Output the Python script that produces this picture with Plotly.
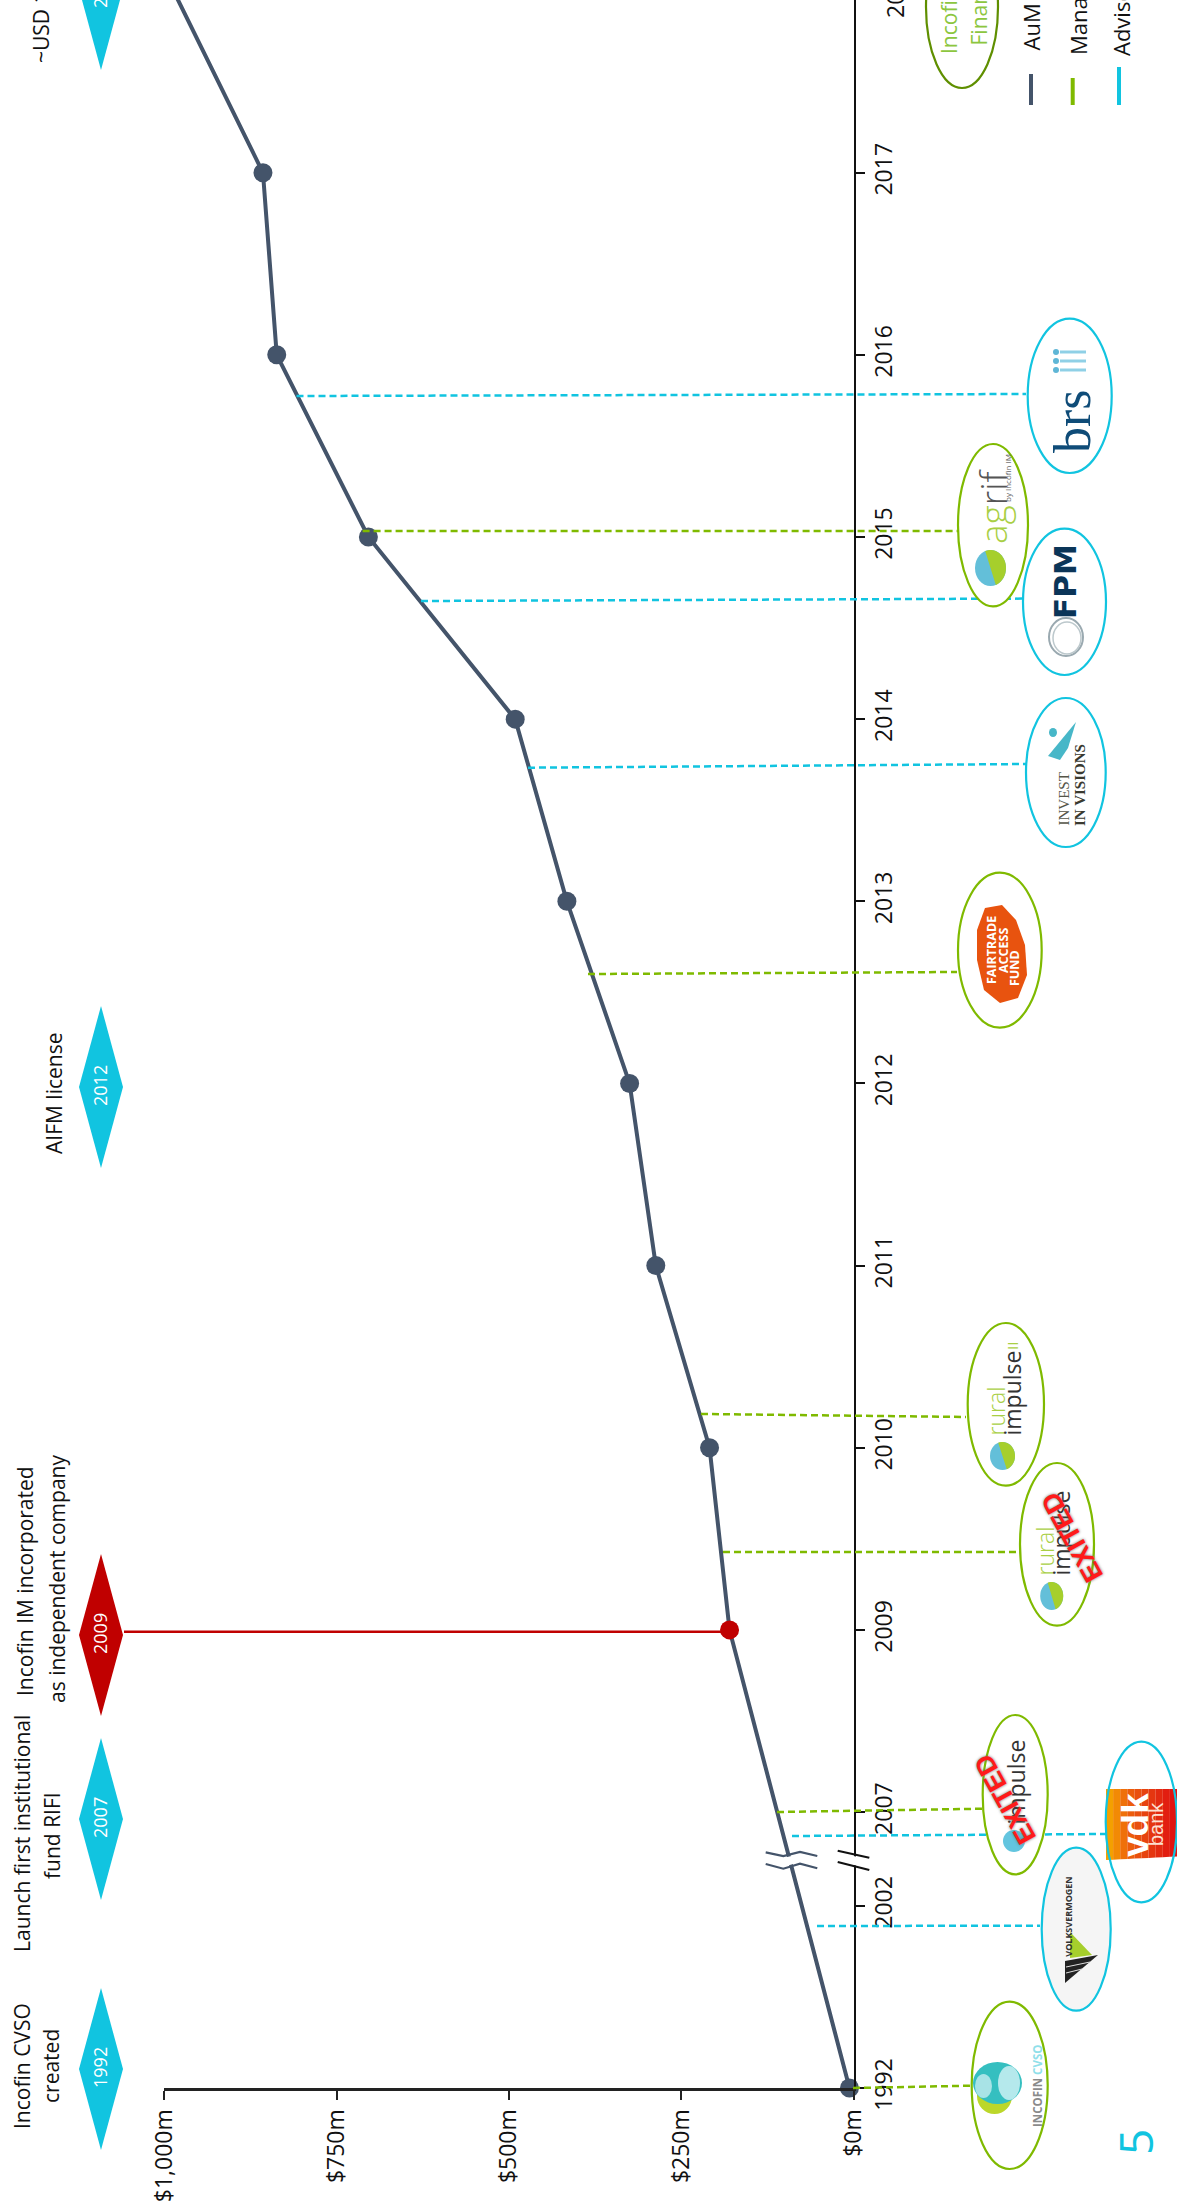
import numpy as np
import plotly.graph_objects as go

W, H = 1177, 2212

# Assets under management (USD m) at each marked year
years = ["1992", "2009", "2010", "2011", "2012", "2013", "2014", "2015", "2016", "2017", "2018"]
aum_usd_m = [6, 180, 209, 287, 325, 416, 491, 704, 837, 857, 987]
year_slots = [0, 2.515, 3.515, 4.515, 5.515, 6.515, 7.515, 8.515, 9.515, 10.515, 11.515]

# Axis ticks; the time axis is broken between 2002 and 2007
tick_years = ["1992", "2002", "2007", "2009", "2010", "2011", "2012", "2013", "2014", "2015", "2016", "2017"]
tick_slots = [0, 1, 1.515, 2.515, 3.515, 4.515, 5.515, 6.515, 7.515, 8.515, 9.515, 10.515]
value_ticks = [0, 250, 500, 750, 1000]
value_labels = ["$0m", "$250m", "$500m", "$750m", "$1,000m"]

NAVY = "#44546a"
CYAN = "#11c4e0"
GREEN = "#7fba00"
RED = "#c00000"
FONT = "Open Sans"

AXIS_X0, AXIS_X1, AXIS_Y = 164.4, 853.6, 2088


def px(x):
    return x / W


def py(y):
    return 1 - y / H


shapes = []
notes = []


def line(x0, y0, x1, y1, color, width=2.5, dash=None):
    shapes.append(dict(type="line", xref="paper", yref="paper", x0=px(x0), y0=py(y0), x1=px(x1), y1=py(y1),
                       line=dict(color=color, width=width, dash=dash)))


def dashed(x0, y0, x1, y1, color):
    line(x0, y0, x1, y1, color, 2.5, "7px,4px")


def oval(x0, y0, x1, y1, fill=None, edge=None, width=2.2):
    shapes.append(dict(type="circle", xref="paper", yref="paper", x0=px(x0), y0=py(y0), x1=px(x1), y1=py(y1),
                       fillcolor=fill if fill else "rgba(0,0,0,0)",
                       line=dict(color=edge if edge else "rgba(0,0,0,0)", width=width if edge else 0)))


def poly(points, fill, edge=None, width=0):
    d = "M " + " L ".join(f"{px(x):.5f},{py(y):.5f}" for x, y in points) + " Z"
    shapes.append(dict(type="path", xref="paper", yref="paper", path=d, fillcolor=fill,
                       line=dict(color=edge if edge else "rgba(0,0,0,0)", width=width)))


def curve(points, color, width):
    d = "M " + " L ".join(f"{px(x):.5f},{py(y):.5f}" for x, y in points)
    shapes.append(dict(type="path", xref="paper", yref="paper", path=d, line=dict(color=color, width=width)))


def text(s, x, y, size, color="#111111", family=FONT, angle=-90, xa="center", ya="middle", **font):
    notes.append(dict(text=s, xref="paper", yref="paper", x=px(x), y=py(y), xanchor=xa, yanchor=ya,
                      textangle=angle, showarrow=False, borderpad=0,
                      font=dict(size=size, color=color, family=family, **font)))


def diamond(cy, label, color):
    cx = 101
    poly([(cx, cy - 81), (cx + 22, cy), (cx, cy + 81), (cx - 22, cy)], color)
    text(label, cx - 1, cy - 1, 18, "#ffffff")


def half_disc(cx, cy, rx, ry, start, color):
    angles = np.radians(np.linspace(start, start + 180, 25))
    poly([(cx + rx * np.cos(a), cy + ry * np.sin(a)) for a in angles], color)


def swirl(cx, cy, rx, ry):
    oval(cx - rx, cy - ry, cx + rx, cy + ry, fill="#63bfd9")
    half_disc(cx, cy, rx, ry, -110, "#a6cf2c")


def exited(cx, cy):
    text("EXITED", cx, cy, 27, "#ff1a1a", "Liberation Sans", angle=-119,
         weight="bold", shadow="0px 0px 3px #666666")


# Timeline diamonds with their captions
diamond(2069, "1992", CYAN)
diamond(1819, "2007", CYAN)
diamond(1635, "2009", RED)
diamond(1087, "2012", CYAN)
diamond(-11, "2018", CYAN)

text("Incofin CVSO", 22, 2066, 21)
text("created", 51, 2066, 21)
text("Launch first institutional", 22, 1834, 21)
text("fund RIFI", 52, 1836, 21)
text("Incofin IM incorporated", 25, 1581, 21)
text("as independent company", 57, 1579, 21)
text("AIFM license", 54, 1094, 21)
text("~USD 1bn AuM", 41, 64, 21, ya="bottom")

# Year labelled beyond the top of the time axis
text("2018", 895, -8, 23)

# Connectors between the AuM line and the fund logos
line(124, 1631.7, 730, 1631.7, RED, 2.5)
dashed(853, 2088, 970, 2085.7, GREEN)
dashed(817, 1926, 1040, 1925.7, CYAN)
dashed(792, 1836, 1107, 1834, CYAN)
dashed(777, 1812, 982, 1808.7, GREEN)
dashed(723, 1552, 1018, 1552, GREEN)
dashed(701, 1414, 966, 1417, GREEN)
dashed(588, 974, 957, 972, GREEN)
dashed(528, 767.7, 1026, 764, CYAN)
dashed(421, 601, 1024, 598.6, CYAN)
dashed(362.6, 531, 958, 531, GREEN)
dashed(296.5, 396, 1026, 394, CYAN)

# Axis break markers
poly([(762, 1854), (783, 1858), (800, 1854), (820, 1858), (820, 1866), (800, 1862), (783, 1867), (762, 1862)], "#ffffff")
curve([(765.7, 1852.3), (783.3, 1856), (800, 1852), (817.3, 1856)], NAVY, 2.2)
curve([(765.7, 1864), (783.3, 1868.7), (800, 1863.7), (817.3, 1868.3)], NAVY, 2.2)
poly([(845, 1854), (862, 1858), (862, 1867), (845, 1863)], "#ffffff")
line(837.7, 1850.7, 869.3, 1857.7, "#111111", 2.2)
line(837.7, 1862, 869.3, 1870, "#111111", 2.2)

# Incofin CVSO
oval(971.7, 2001.7, 1047.7, 2169, fill="#ffffff")
oval(977, 2078, 1012, 2114, fill="#bcd72a")
oval(973, 2062, 1022, 2104, fill="#35bfc0")
oval(998, 2066, 1020, 2100, fill="#b5e9ec")
oval(975, 2074, 992, 2098, fill="#a8e3e6")
text('<span style="color:#8a8a8a">INCOFIN</span> <span style="color:#8fe0ea">CVSO</span>',
     1037, 2086, 11.5, weight="bold")
oval(971.7, 2001.7, 1047.7, 2169, edge=GREEN)

# Volksvermogen
oval(1041.7, 1847.7, 1110.7, 2010.7, fill="#f5f5f5")
poly([(1070, 1932), (1092, 1955), (1070, 1958)], "#a6cf2c")
poly([(1065, 1961), (1098, 1955), (1065, 1983)], "#222222")
line(1066, 1967, 1090, 1962, "#dddddd", 1)
line(1066, 1973, 1082, 1969, "#dddddd", 1)
text("VOLKSVERMOGEN", 1067.7, 1917, 9, "#333333", weight="bold")
oval(1041.7, 1847.7, 1110.7, 2010.7, edge=CYAN)

# vdk bank
oval(1105.7, 1741.7, 1177, 1902.3, fill="#ffffff")
strip_colors = ["#f4a000", "#f28a05", "#ef700a", "#ec5c0c", "#e9500e", "#e7440f", "#e53610", "#e32a10", "#e21e10", "#e01410"]
for i, c in enumerate(strip_colors):
    x0 = 1106 + i * 7.1
    shear = i * 0.35
    poly([(x0, 1789), (x0 + 7.1, 1789), (x0 + 7.1, 1860 - shear - 0.35), (x0, 1860 - shear)], c)
text("vdk", 1135, 1825, 37, "#ffffff", "Liberation Sans", weight="bold")
text("bank", 1156, 1824, 20, "#fde0d0", "Liberation Sans")
oval(1105.7, 1741.7, 1177, 1902.3, edge=CYAN)

# Rural impulse (first fund)
oval(982.7, 1715, 1047.7, 1874.3, fill="#ffffff")
oval(1003, 1830, 1025, 1852, fill="#63c5df")
text("impulse", 1015, 1826, 23, "#333333", ya="bottom")
exited(1005, 1799)
oval(982.7, 1715, 1047.7, 1874.3, edge=GREEN)

# Rural impulse II
oval(967.7, 1323, 1044, 1485.7, fill="#ffffff")
swirl(1002.5, 1456, 12.5, 14)
text("rural", 995, 1437, 23, "#a9cf45", ya="bottom", weight=300)
text("impulse", 1011, 1437, 23, "#333333", ya="bottom")
text("II", 1012, 1351, 15, "#a9cf45", ya="bottom")
oval(967.7, 1323, 1044, 1485.7, edge=GREEN)

# Rural impulse I
oval(1020, 1463, 1094, 1625.7, fill="#ffffff")
swirl(1051.7, 1596, 11.5, 14)
text("rural", 1044, 1577, 23, "#a9cf45", ya="bottom", weight=300)
text("impulse", 1060, 1577, 23, "#333333", ya="bottom")
oval(1020, 1463, 1094, 1625.7, edge=GREEN)
exited(1072, 1537)

# Fairtrade Access Fund
oval(958, 872.7, 1041.7, 1027.7, fill="#ffffff")
blob = [(985, 908), (1002, 905), (1016, 920), (1025, 945), (1027, 975), (1018, 998), (1000, 1003),
        (984, 990), (977, 960), (977, 930)]
poly(blob, "#e8530f")
text("FAIRTRADE", 992, 950, 12.5, "#ffffff", weight="bold")
text("ACCESS", 1003, 951, 12.5, "#ffffff", weight="bold")
text("FUND", 1014, 968, 12.5, "#ffffff", weight="bold")
oval(958, 872.7, 1041.7, 1027.7, edge=GREEN)

# Invest in Visions
oval(1026, 698, 1105.7, 847, fill="#ffffff")
poly([(1076, 722), (1048, 756), (1060, 760), (1068, 748)], "#47b7c8")
oval(1049, 728, 1057, 737, fill="#47b7c8")
text("INVEST", 1063, 827, 15, "#555548", "Liberation Serif", ya="bottom")
text("IN VISIONS", 1080, 827, 15, "#3a3a30", "Liberation Serif", ya="bottom", weight="bold")
oval(1026, 698, 1105.7, 847, edge=CYAN)

# FPM
oval(1023, 528.6, 1106, 675, fill="#ffffff")
oval(1049, 618, 1083, 656, edge="#9aa9b0", width=2)
oval(1053, 622, 1081, 654, edge="#bcc8cc", width=1.5)
text("FPM", 1065, 582, 31, "#0b3558", "DejaVu Sans", weight="bold")
oval(1023, 528.6, 1106, 675, edge=CYAN)

# Agrif
oval(958, 444, 1028, 606.4, fill="#ffffff")
swirl(990.5, 568, 15.5, 18)
text('<span style="color:#a9cf45">ag</span><span style="color:#555555">rif</span>', 992, 545, 37, ya="bottom", weight=300)
text("by Incofin IM", 1007, 503, 8, "#666666", ya="bottom")
oval(958, 444, 1028, 606.4, edge=GREEN)

# Brs
oval(1027.7, 318.6, 1111.7, 473, fill="#ffffff")
for yc in (352, 361, 370):
    oval(1053, yc - 3, 1059, yc + 3, fill="#5fb6d6")
    line(1060, yc, 1086, yc, "#8fd0e6", 3)
text("brs", 1072, 454, 52, "#0f4c78", "Liberation Serif", ya="bottom")
oval(1027.7, 318.6, 1111.7, 473, edge=CYAN)

# Fund launched beyond the top edge
oval(926, -74, 998, 88, fill="#ffffff", edge="#5f8f00")
text("Incofin Impact", 949, 55, 21, "#8cc63f", ya="bottom")
text("Finance", 978, 46, 21, "#8cc63f", ya="bottom")

# Colour key
line(1031, 74, 1031, 105, NAVY, 4)
line(1072.7, 78, 1072.7, 105, GREEN, 4)
line(1119, 67, 1119, 105, CYAN, 4)
text("AuM", 1031, 52, 22, ya="bottom")
text("Managed funds", 1078, 56, 22, ya="bottom")
text("Advisory funds", 1121, 57, 22, ya="bottom")

# Page number
text("5", 1135, 2142, 46, CYAN)

marker_colors = [RED if y == "2009" else NAVY for y in years]

fig = go.Figure(go.Scatter(
    x=aum_usd_m, y=year_slots, mode="lines+markers", cliponaxis=False,
    line=dict(color=NAVY, width=4),
    marker=dict(size=19, color=marker_colors),
    hoverinfo="skip",
))

fig.update_layout(
    width=W, height=H, autosize=False,
    margin=dict(l=0, r=0, t=0, b=0),
    paper_bgcolor="#ffffff", plot_bgcolor="#ffffff",
    showlegend=False,
    shapes=shapes, annotations=notes,
    xaxis=dict(
        domain=[px(AXIS_X0), px(AXIS_X1)], range=[1000, 0],
        tickvals=value_ticks, ticktext=value_labels, tickangle=-90,
        ticks="outside", ticklen=9, tickwidth=2, tickcolor="#222222",
        showline=True, linecolor="#222222", linewidth=3,
        showgrid=False, zeroline=False, automargin=False,
        tickfont=dict(family=FONT, size=23, color="#111111"),
    ),
    yaxis=dict(
        domain=[py(AXIS_Y), 1], range=[0, AXIS_Y / 182.15], side="right",
        tickvals=tick_slots, ticktext=tick_years, tickangle=-90,
        ticks="outside", ticklen=9, tickwidth=2, tickcolor="#111111",
        showline=True, linecolor="#111111", linewidth=2,
        showgrid=False, zeroline=False, automargin=False,
        tickfont=dict(family=FONT, size=23, color="#111111"),
    ),
)

fig.write_html("out.html", config={"displayModeBar": False})
